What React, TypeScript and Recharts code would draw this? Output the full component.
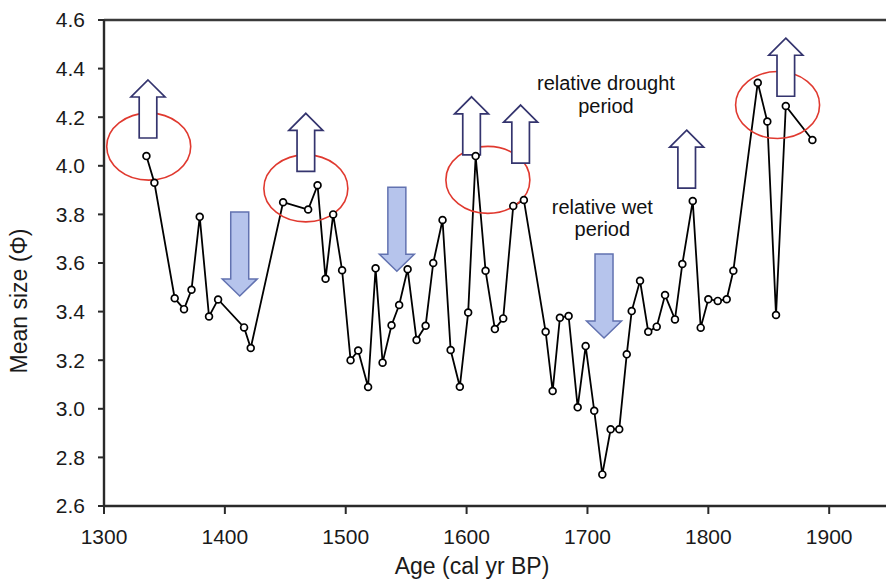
import React from 'react';
import { LineChart, Line, XAxis, YAxis, ReferenceDot, ReferenceLine } from 'recharts';

const ages = [1335.1, 1341.7, 1358.5, 1366.2, 1372.4, 1379.2, 1386.9, 1394.4, 1415.9, 1421.4, 1448.2, 1468.9, 1476.7, 1483.3, 1489.6, 1497.0, 1504.0, 1510.3, 1518.5, 1524.7, 1530.5, 1537.9, 1544.2, 1551.2, 1558.6, 1566.1, 1572.4, 1580.1, 1586.8, 1594.4, 1601.3, 1607.5, 1615.7, 1623.4, 1630.3, 1638.6, 1647.4, 1665.4, 1671.2, 1677.2, 1684.4, 1691.9, 1698.5, 1705.6, 1712.3, 1719.2, 1726.3, 1732.5, 1736.6, 1743.5, 1750.3, 1757.3, 1764.2, 1772.4, 1778.5, 1787.1, 1793.7, 1800.0, 1807.8, 1815.2, 1820.7, 1840.9, 1848.8, 1856.0, 1864.1, 1886.1];
const meanSize = [4.04, 3.93, 3.455, 3.41, 3.49, 3.79, 3.38, 3.45, 3.335, 3.25, 3.85, 3.82, 3.92, 3.535, 3.80, 3.57, 3.20, 3.24, 3.09, 3.578, 3.19, 3.344, 3.427, 3.574, 3.283, 3.342, 3.60, 3.777, 3.242, 3.091, 3.396, 4.04, 3.568, 3.328, 3.372, 3.835, 3.859, 3.317, 3.073, 3.375, 3.382, 3.006, 3.258, 2.992, 2.73, 2.916, 2.916, 3.224, 3.402, 3.527, 3.317, 3.338, 3.468, 3.368, 3.596, 3.855, 3.334, 3.451, 3.444, 3.451, 3.568, 4.342, 4.182, 3.386, 4.246, 4.106];

const xTicks = [1300, 1400, 1500, 1600, 1700, 1800, 1900];
const yTicks = [2.6, 2.8, 3.0, 3.2, 3.4, 3.6, 3.8, 4.0, 4.2, 4.4, 4.6];

// annotation anchors (age, mean size)
const ellipseAges = [1337, 1467, 1617.6, 1857.3];
const ellipseVals = [4.079, 3.907, 3.942, 4.25];
const upArrowAges = [1336.4, 1467, 1604.1, 1644.7, 1782.1, 1864.1];
const upArrowVals = [4.353, 4.216, 4.284, 4.25, 4.147, 4.525];
const downArrowAges = [1412.3, 1542.3, 1713.7];
const downArrowVals = [3.81, 3.912, 3.637];
const noteAges = [1715.3, 1712.3];
const noteVals = [4.312, 3.802];
const noteLines = [['relative drought', 'period'], ['relative wet', 'period']];

const data = ages.map((a, i) => ({ age: a, size: meanSize[i] }));

const FONT = '"Liberation Sans", Arial, sans-serif';

const EllipseShape = (p: any) => (
  <ellipse cx={p.cx} cy={p.cy} rx={42} ry={33.5} fill="none" stroke="#e0392f" strokeWidth={1.6} />
);

const UpArrow = (p: any) => {
  const x = p.cx, y = p.cy;
  const pts = [
    [x, y], [x + 17, y + 17], [x + 8.8, y + 17], [x + 8.8, y + 58],
    [x - 8.8, y + 58], [x - 8.8, y + 17], [x - 17, y + 17],
  ].map((q) => q.join(',')).join(' ');
  return <polygon points={pts} fill="#fff" stroke="#34346e" strokeWidth={1.7} />;
};

const DownArrow = (p: any) => {
  const x = p.cx, y = p.cy;
  const pts = [
    [x - 9, y], [x + 9, y], [x + 9, y + 67], [x + 17.5, y + 67],
    [x, y + 84], [x - 17.5, y + 67], [x - 9, y + 67],
  ].map((q) => q.join(',')).join(' ');
  return <polygon points={pts} fill="#b6c4ec" stroke="#6272b0" strokeWidth={1.5} />;
};

const makeNote = (lines: string[], gap: number) => (p: any) => (
  <text x={p.cx} y={p.cy} textAnchor="middle" fontFamily={FONT} fontSize={20} fill="#111">
    <tspan x={p.cx} dy={0}>{lines[0]}</tspan>
    <tspan x={p.cx} dy={gap}>{lines[1]}</tspan>
  </text>
);

export default function App() {
  return (
    <div style={{ position: 'absolute', left: 0, top: 0, width: 886, height: 582, background: '#fff', overflow: 'hidden' }}>
      <LineChart width={886} height={582} data={data} margin={{ top: 20, right: 0, bottom: 0, left: 0 }}>
        <XAxis
          dataKey="age"
          type="number"
          domain={[1300, 1947]}
          ticks={xTicks}
          allowDataOverflow
          height={76}
          tickSize={8}
          tickMargin={15}
          axisLine={{ stroke: '#2a2a2a', strokeWidth: 2.4 }}
          tickLine={{ stroke: '#2a2a2a', strokeWidth: 2 }}
          tick={{ fontSize: 21, fontFamily: FONT, fill: '#1a1a1a' }}
          label={{
            content: (p: any) => {
              const vb = p.viewBox || { x: 104, y: 506, width: 782, height: 76 };
              return (
                <text x={vb.x + vb.width / 2 - 23} y={574} textAnchor="middle" fontFamily={FONT} fontSize={23} fill="#1a1a1a">
                  Age (cal yr BP)
                </text>
              );
            },
          }}
        />
        <YAxis
          dataKey="size"
          type="number"
          domain={[2.6, 4.6]}
          ticks={yTicks}
          width={104}
          tickSize={6}
          tickMargin={13}
          tickFormatter={(v: number) => v.toFixed(1)}
          axisLine={{ stroke: '#2a2a2a', strokeWidth: 2.4 }}
          tickLine={{ stroke: '#2a2a2a', strokeWidth: 2 }}
          tick={{ fontSize: 21, fontFamily: FONT, fill: '#1a1a1a' }}
          label={{
            content: (p: any) => {
              const vb = p.viewBox || { x: 0, y: 20, width: 104, height: 486 };
              const cy = vb.y + vb.height / 2 + 38;
              return (
                <text x={19} y={cy} transform={`rotate(-90 19 ${cy})`} textAnchor="middle" dominantBaseline="central" fontFamily={FONT} fontSize={23} fill="#1a1a1a">
                  Mean size (Φ)
                </text>
              );
            },
          }}
        />
        <ReferenceLine y={4.6} stroke="#3a3a3a" strokeWidth={2.4} />
        {ellipseAges.map((a, i) => (
          <ReferenceDot key={'e' + i} x={a} y={ellipseVals[i]} r={1} shape={EllipseShape} ifOverflow="visible" />
        ))}
        {upArrowAges.map((a, i) => (
          <ReferenceDot key={'u' + i} x={a} y={upArrowVals[i]} r={1} shape={UpArrow} ifOverflow="visible" />
        ))}
        {downArrowAges.map((a, i) => (
          <ReferenceDot key={'d' + i} x={a} y={downArrowVals[i]} r={1} shape={DownArrow} ifOverflow="visible" />
        ))}
        {noteAges.map((a, i) => (
          <ReferenceDot key={'n' + i} x={a} y={noteVals[i]} r={1} shape={makeNote(noteLines[i], i === 0 ? 23 : 22)} ifOverflow="visible" />
        ))}
        <Line
          dataKey="size"
          type="linear"
          stroke="#000"
          strokeWidth={1.8}
          dot={{ r: 3.4, fill: '#fff', stroke: '#000', strokeWidth: 1.7 }}
          isAnimationActive={false}
        />
      </LineChart>
    </div>
  );
}
